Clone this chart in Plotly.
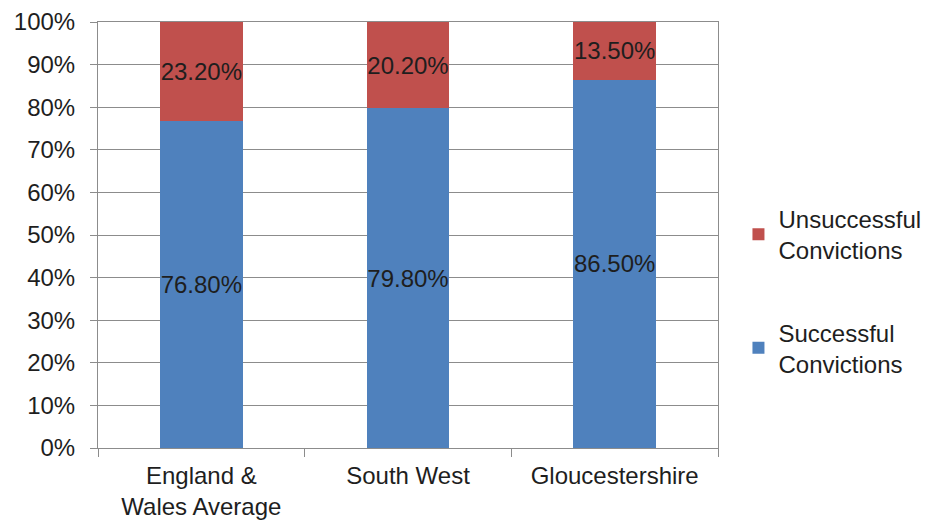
import plotly.graph_objects as go

categories = ['England &<br>Wales Average', 'South West', 'Gloucestershire']
successful = [76.8, 79.8, 86.5]
unsuccessful = [23.2, 20.2, 13.5]

blue = '#4F81BD'
red = '#C0504D'
grid = '#8c8c8c'
txt = '#1e1e1e'

fig = go.Figure()

fig.add_trace(go.Bar(
    x=categories, y=successful,
    name='Successful<br>Convictions',
    legendgroup='s', legendrank=2,
    marker=dict(color=blue, line=dict(width=0)),
    text=[f'{v:.2f}%' for v in successful],
    textposition='inside',
    insidetextanchor='middle',
    constraintext='none',
    textangle=0,
    textfont=dict(color=txt, size=24),
))
fig.add_trace(go.Bar(
    x=categories, y=unsuccessful,
    name='Unsuccessful<br>Convictions',
    legendgroup='u', legendrank=1,
    marker=dict(color=red, line=dict(width=0)),
    text=[f'{v:.2f}%' for v in unsuccessful],
    textposition='inside',
    insidetextanchor='middle',
    constraintext='none',
    textangle=0,
    textfont=dict(color=txt, size=24),
))

# page has an 8px body margin, so margins are shifted to keep the plot where the reference has it
fig.update_layout(
    barmode='stack',
    bargap=0.6,
    width=936, height=523,
    margin=dict(l=90, r=226, t=14, b=83, autoexpand=False),
    paper_bgcolor='white',
    plot_bgcolor='white',
    font=dict(family='Liberation Sans, Arial, sans-serif', size=24, color=txt),
    legend=dict(
        x=1.033, y=0.59, xanchor='left', yanchor='top',
        traceorder='grouped',
        tracegroupgap=48,
        font=dict(size=24),
        itemwidth=30,
    ),
)

fig.update_xaxes(
    automargin=False,
    showline=True, linecolor=grid, linewidth=1, mirror=True,
    ticks='outside', tickson='boundaries', ticklen=8, tickcolor=grid,
    ticklabelstandoff=6,
    showgrid=False,
    tickfont=dict(size=24),
)
fig.update_yaxes(
    automargin=False,
    range=[0, 100], dtick=10, ticksuffix='%',
    showline=True, linecolor=grid, linewidth=1, mirror=True,
    ticks='outside', ticklen=7, tickcolor=grid,
    ticklabelstandoff=10,
    showgrid=True, gridcolor=grid, gridwidth=1,
    tickfont=dict(size=24),
)

fig.write_html('out.html')
